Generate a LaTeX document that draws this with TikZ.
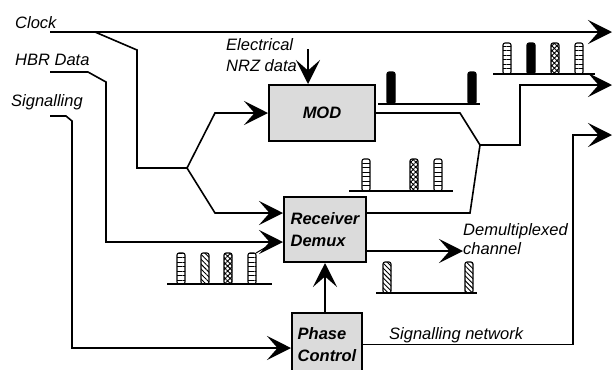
\documentclass[tikz,border=0pt]{standalone}
\usepackage{fontspec}
\setmainfont{Liberation Sans}
\usetikzlibrary{arrows.meta,patterns.meta}
\newcommand\pulse[4]{\draw[barb,#4] (#1,#3) rectangle (#1+8,#2);}
\begin{document}
\begin{tikzpicture}[x=1pt,y=-1pt,
  wire/.style={line width=1.6pt},
  arr/.style={wire,-{Stealth[length=24pt,width=24pt,inset=10.5pt]}},
  blk/.style={draw,line width=2pt,fill=gray!28,font=\fontsize{16.5}{22}\selectfont\bfseries\itshape,align=left,inner sep=0pt},
  lbl/.style={anchor=base west,inner sep=0pt,font=\fontsize{16.5}{18}\selectfont\itshape},
  baseln/.style={line width=1.4pt},
  barb/.style={line width=1.1pt,rounded corners=2pt},
  ladderbar/.style={pattern={Lines[angle=0,distance=4.5pt,line width=0.9pt]}},
  hatchbar/.style={pattern={Lines[angle=-45,distance=3.5pt,line width=0.9pt]}},
  crossbar/.style={pattern={Hatch[angle=45,distance=3.5pt,line width=0.9pt]}},
  blackbar/.style={fill=black}
]
\useasboundingbox (0,0) rectangle (614,370);

% labels
\node[lbl] (lclk) at (15,28) {Clock};
\node[lbl] (lhbr) at (15,65) {HBR Data};
\node[lbl] (lsig) at (11,106) {Signalling};
\node[lbl] (lel1) at (226,50) {Electrical};
\node[lbl] (lel2) at (226,71) {NRZ data};
\node[lbl] (ldm1) at (463,235) {Demultiplexed};
\node[lbl] (ldm2) at (463,254) {channel};
\node[lbl] (lsn) at (389,339) {Signalling network};

% boxes
\node[blk,minimum width=106pt,minimum height=56pt] (mod) at (322,113) {MOD};
\node[blk,minimum width=82pt,minimum height=65pt] (rcv) at (325,229.5) {Receiver\\Demux};
\node[blk,minimum width=70pt,minimum height=63pt] (ph) at (327,344.5) {Phase\\Control};

% clock
\coordinate (clkA) at (50,32);
\coordinate (clkB) at (612,32);
\draw[arr] (clkA) -- (clkB);
\coordinate (clkT) at (95,32);
\coordinate (br) at (187,168);
\draw[wire] (clkT) -- (137,50) -- (137,168) -- (br);
\draw[arr] (br) -- (215,113) -- (mod.west);
\draw[arr] (br) -- (215,213) -- ([yshift=16.5pt]rcv.west);

% HBR data
\coordinate (hbrA) at (50,72);
\draw[arr] (hbrA) -- (88,72) -- (106,82) -- (106,242) -- ([yshift=-12.5pt]rcv.west);

% signalling
\coordinate (sigA) at (50,116);
\draw[arr] (sigA) -- (66,116) -- (72,121) -- (72,348) -- ([yshift=-3.5pt]ph.west);

% electrical NRZ data
\coordinate (nrz) at (308,49);
\draw[arr] (nrz) -- (nrz |- mod.north);

% MOD output
\coordinate (o2) at (612,85);
\coordinate (mj) at (480,145);
\draw[arr] (mod.east) -- (460,113) -- (mj) -- (520,145) -- (520,85) -- (o2);
\draw[wire] ([yshift=16.5pt]rcv.east) -- (470,213) -- (mj);

% demux output
\coordinate (dm) at (463,251);
\draw[arr] ([yshift=-21.5pt]rcv.east) -- (dm);

% phase control
\draw[arr] (rcv.south |- ph.north) -- (rcv.south);
\coordinate (o3) at (612,135);
\draw[arr] (ph.east) -- (573,344.5) -- (573,135) -- (o3);

% pulse trains
\draw[baseln] (378,104) -- (480,104);
\pulse{387}{72}{104}{blackbar}
\pulse{468}{72}{104}{blackbar}

\draw[baseln] (493,74) -- (595,74);
\pulse{503}{43}{74}{ladderbar}
\pulse{527}{43}{74}{blackbar}
\pulse{551}{43}{74}{crossbar}
\pulse{575}{43}{74}{ladderbar}

\draw[baseln] (349,191) -- (453,191);
\pulse{362}{159}{191}{ladderbar}
\pulse{410}{159}{191}{crossbar}
\pulse{434}{159}{191}{ladderbar}

\draw[baseln] (167,284) -- (272,284);
\pulse{177}{253}{284}{ladderbar}
\pulse{201}{253}{284}{hatchbar}
\pulse{224}{253}{284}{crossbar}
\pulse{248}{253}{284}{ladderbar}
\draw[line width=1pt] (256,253) -- (268,246);

\draw[baseln] (376,293) -- (477,293);
\pulse{383}{262}{293}{hatchbar}
\pulse{465}{262}{293}{hatchbar}
\end{tikzpicture}
\end{document}
